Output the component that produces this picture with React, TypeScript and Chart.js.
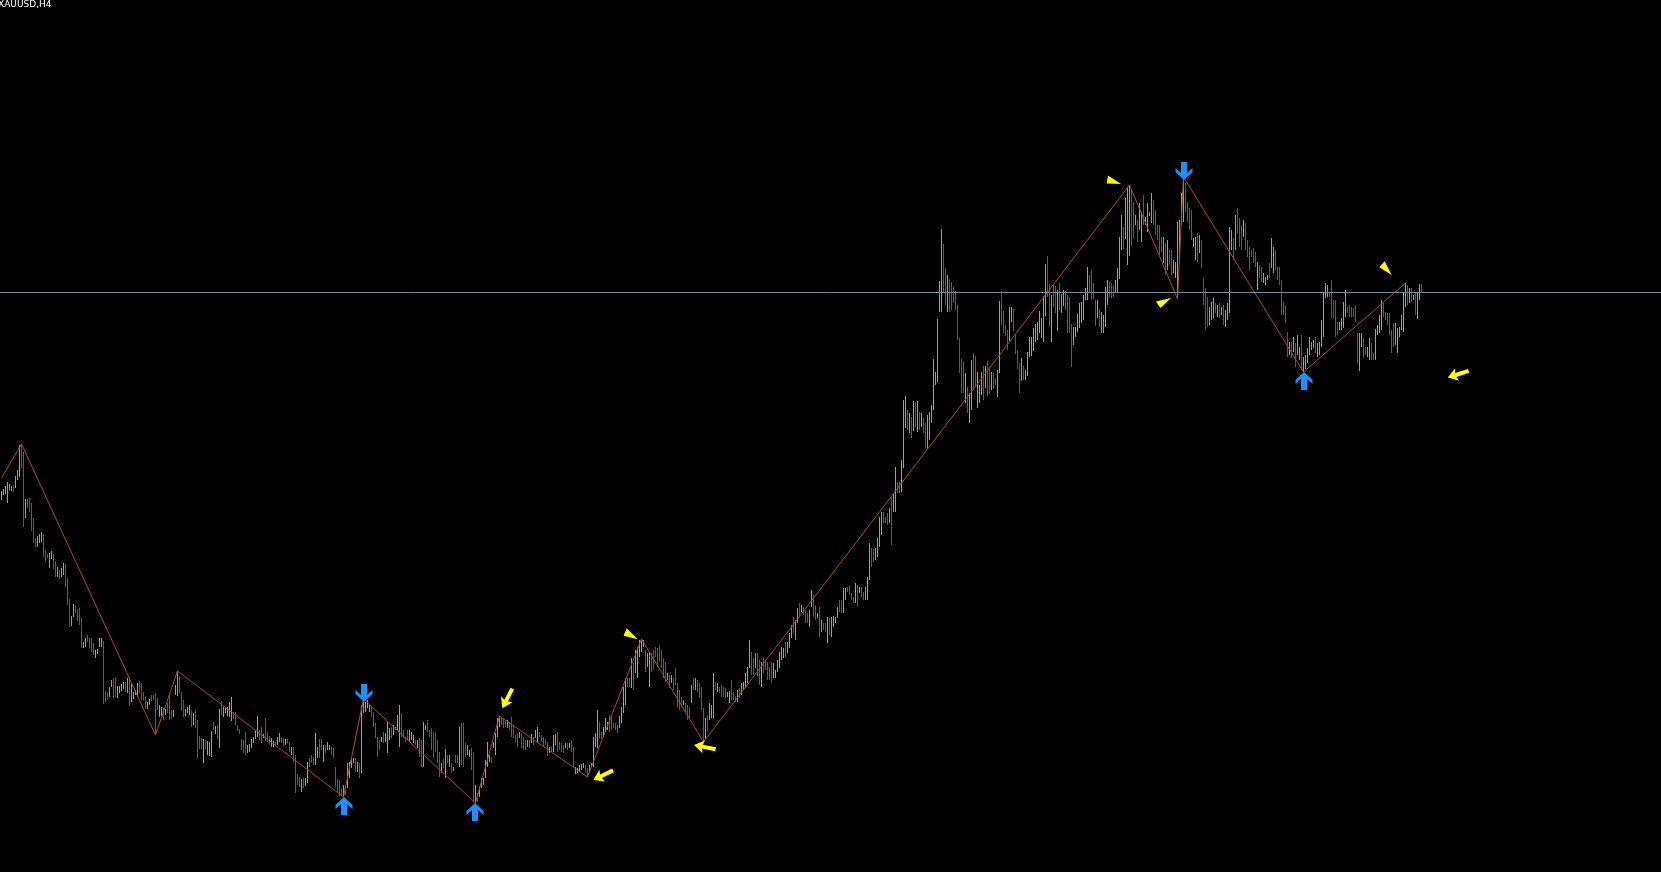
import React, { useEffect, useRef } from "react";
import { Chart, registerables } from "chart.js";

Chart.register(...registerables);

const symbolTitle = "XAUUSD,H4";

// H4 bars: high / low prices and direction (1 = bullish, 0 = bearish)
const highs = [
  1790.5,1791.5,1793,1795,1794,1793,1793.5,1798,1801,1813.5,
  1814,1810,1786.5,1786.5,1787,1784.5,1777,1767,1768,1769,
  1770,1769,1761,1759,1759.5,1760.5,1759,1755.5,1752.5,1751,
  1752,1754.5,1754,1747,1736.5,1728,1734,1733.5,1731.5,1732,
  1727,1715,1717,1718.5,1717,1717,1714.5,1711,1711.5,1717,
  1717,1715.5,1690.5,1690,1692.5,1696,1697,1697.5,1693,1693,
  1694,1695,1695,1697,1697.5,1694,1690,1691,1694.5,1695.5,
  1694.5,1690,1688,1685,1686.5,1688.5,1688.5,1689.5,1687,1683.5,
  1682.5,1682,1681.5,1684.5,1688.5,1681,1681,1693.5,1700.5,1698,
  1690,1686,1681.5,1682.5,1683.5,1681,1679.5,1681,1676,1668,
  1667,1666.5,1666,1665.5,1665,1670.5,1675,1673,1673.5,1681.5,
  1685.5,1682.5,1682.5,1682.5,1685,1687.5,1680,1680,1673.5,1671.5,
  1666.5,1666,1670,1663.5,1664,1666.5,1667.5,1670.5,1678,1671,
  1672.5,1669,1677,1670,1668,1667,1665.5,1665,1667.5,1669.5,
  1667,1667,1666.5,1666.5,1665,1662.5,1662.5,1658.5,1649,1647.5,
  1646.5,1647,1647,1655,1657,1658.5,1657.5,1669.5,1662.5,1666.5,
  1666.5,1663.5,1663.5,1665,1663.5,1662.5,1662,1652.5,1646.5,1646,
  1642,1643.5,1641.5,1654.5,1655,1657,1657,1657,1655,1654.5,
  1683.5,1686.5,1685,1686,1683.5,1682.5,1680,1674.5,1667.5,1666,
  1667.5,1670,1669.5,1675,1672,1672.5,1673.5,1672.5,1678.5,1683.5,
  1679.5,1671,1667.5,1671,1671,1670,1668.5,1666,1666,1667,
  1666,1675,1673.5,1676,1671,1672,1670,1669.5,1666,1660,
  1654.5,1656.5,1661.5,1658.5,1658.5,1654.5,1652.5,1658.5,1658.5,1672.5,
  1674.5,1674.5,1664.5,1663.5,1661,1662,1660,1643.5,1639.5,1642.5,
  1647,1647,1656,1665,1658.5,1657.5,1665,1669.5,1677,1678,
  1677.5,1677,1676,1676,1675,1677.5,1673.5,1668.5,1669.5,1670,
  1669.5,1667.5,1666,1666,1666,1669,1667.5,1671,1672.5,1670,
  1668.5,1667.5,1666.5,1665,1662.5,1662.5,1668.5,1669,1670,1665,
  1664.5,1663.5,1664.5,1664.5,1664.5,1666,1662.5,1652.5,1652,1653.5,
  1654,1654.5,1653.5,1652,1653.5,1654.5,1667.5,1669.5,1681,1675,
  1670,1672.5,1677,1675,1678.5,1677.5,1674.5,1674.5,1673.5,1678,
  1682.5,1692.5,1697,1697,1697,1707,1704.5,1711,1712.5,1716,
  1716.5,1716,1711,1709.5,1710,1709.5,1711,1712.5,1712,1713.5,
  1711,1707,1705,1699.5,1698.5,1698.5,1697,1702,1694.5,1691,
  1687.5,1686,1684.5,1683.5,1682.5,1693.5,1697,1697,1696,1694.5,
  1692.5,1682,1677,1678.5,1684.5,1683.5,1699.5,1695,1694.5,1692.5,
  1693.5,1692.5,1692,1690,1690.5,1696,1690,1688,1691,1692,
  1694.5,1695,1699.5,1702.5,1716,1710,1707,1709.5,1709.5,1706,
  1705,1707,1706,1705,1702.5,1704.5,1704.5,1701,1706,1710,
  1712.5,1712,1715,1715,1719.5,1723.5,1727.5,1726,1732,1734.5,
  1733.5,1732.5,1731,1729.5,1731,1741,1738.5,1733.5,1729.5,1732.5,
  1726,1724.5,1724.5,1727.5,1727,1727.5,1728,1727.5,1732.5,1736,
  1736,1742,1742,1742.5,1743.5,1739.5,1737.5,1744.5,1743.5,1742.5,
  1742.5,1740,1742.5,1747.5,1764.5,1762,1761.5,1762,1767,1777.5,
  1780,1780,1777.5,1779.5,1782,1787.5,1789.5,1802.5,1795,1795,
  1806,1836,1838,1831,1829.5,1827.5,1835.5,1835,1835.5,1830,
  1829.5,1827,1824.5,1828.5,1830,1833.5,1856.5,1850,1876.5,1895.5,
  1921.5,1914,1902,1898.5,1896.5,1895,1892.5,1890.5,1883.5,1867,
  1856.5,1855.5,1849.5,1842.5,1839.5,1856,1859.5,1858,1850,1843.5,
  1850,1853,1853,1855.5,1852.5,1850,1849.5,1847,1851,1885.5,
  1890.5,1880.5,1873.5,1871,1882.5,1882.5,1881.5,1868.5,1861,1854.5,
  1857,1853,1851,1860,1867.5,1867.5,1872,1874,1875,1880.5,
  1877,1888,1904,1908,1894,1888.5,1893.5,1893,1891,1894.5,
  1889,1891,1890.5,1888.5,1887.5,1874,1872.5,1872.5,1879,1884.5,
  1885,1888.5,1892,1902.5,1898.5,1901,1894.5,1886,1886,1881.5,
  1880,1878.5,1892.5,1896,1895,1894.5,1893.5,1896,1902,1917.5,
  1928.5,1922.5,1937,1942,1943.5,1941,1935,1928.5,1926,1934.5,
  1930,1938.5,1927.5,1934.5,1930,1939.5,1936,1931,1923.5,1923.5,
  1917.5,1917.5,1914.5,1916,1911,1911,1906,1905,1925,1926,
  1939.5,1947.5,1944.5,1935,1932,1931,1917,1917.5,1919.5,1918.5,
  1916,1897,1892,1887.5,1882.5,1885,1887,1884.5,1883.5,1884.5,
  1882.5,1883.5,1881,1884.5,1922.5,1921,1917,1928.5,1932,1927,
  1923.5,1926,1924.5,1916,1912.5,1911,1912,1910,1905,1903.5,
  1902.5,1899.5,1897.5,1898.5,1904.5,1917,1912.5,1911,1902.5,1902.5,
  1896,1885,1883.5,1870,1865,1865,1867.5,1864.5,1868.5,1862.5,
  1868.5,1857.5,1858.5,1862,1867.5,1865,1866,1867.5,1864.5,1865,
  1876,1890,1894.5,1893.5,1889.5,1896,1886,1886,1875,1875,
  1877,1885,1891,1882.5,1883.5,1882.5,1882,1883.5,1869.5,1869.5,
  1869.5,1867,1862.5,1862.5,1867,1864.5,1859.5,1871.5,1873.5,1878.5,
  1886,1884.5,1880,1879.5,1879.5,1871,1874.5,1874.5,1872,1872.5,
  1878.5,1890,1894.5,1893.5,1892,1892,1888.5,1889.5,1889.5,1894,1894,
];

const lows = [
  1786,1788.5,1789,1784.5,1791,1790.5,1790,1792,1796,1797.5,
  1802,1772.5,1777,1782,1780,1770.5,1764.5,1762.5,1762.5,1764.5,
  1765,1757.5,1755,1757,1752,1756.5,1751.5,1747.5,1747.5,1746.5,
  1747.5,1748.5,1742.5,1733.5,1722.5,1723,1727.5,1729.5,1725.5,1723.5,
  1712,1712,1712.5,1715,1712,1710,1708.5,1707,1709,1712.5,
  1712.5,1684,1685,1686,1687.5,1692.5,1687,1687.5,1687,1689.5,
  1690.5,1691.5,1690,1689.5,1683,1685,1686.5,1688.5,1687.5,1689.5,
  1686,1686,1681.5,1681.5,1683.5,1685.5,1686,1668.5,1681,1677.5,
  1678,1676,1678.5,1679.5,1676,1676.5,1677.5,1688.5,1688,1689.5,
  1680.5,1677.5,1678,1679.5,1678.5,1672.5,1673.5,1672,1657,1661.5,
  1661.5,1654.5,1661.5,1658.5,1658,1657.5,1671,1669,1666.5,1662,
  1678.5,1677.5,1679.5,1678,1677.5,1675.5,1676.5,1673.5,1670.5,1669,
  1661,1659.5,1658.5,1659.5,1660,1662,1664.5,1666.5,1667.5,1666,
  1664.5,1667,1665.5,1665,1663.5,1662.5,1662.5,1663.5,1663.5,1665,
  1664.5,1663,1663.5,1664.5,1660,1658.5,1655,1639.5,1643.5,1642.5,
  1640,1642,1643,1644.5,1652.5,1654.5,1653.5,1653.5,1657,1657,
  1661,1655,1659.5,1661,1661,1658.5,1657,1642.5,1639.5,1638,
  1638,1637.5,1638.5,1642,1647,1652,1654.5,1650,1650,1647,
  1649.5,1679.5,1680,1682,1680,1677.5,1672.5,1667,1657.5,1661,
  1665,1664.5,1665,1659.5,1666,1667,1668.5,1671,1671,1662.5,
  1667.5,1667,1665,1666,1665,1666,1664.5,1663.5,1662,1657.5,
  1652.5,1652.5,1671,1670,1667.5,1661,1657,1660,1654.5,1647.5,
  1649.5,1652,1647,1654.5,1652.5,1649.5,1650.5,1654.5,1654.5,1652.5,
  1653.5,1652.5,1657.5,1658.5,1657.5,1651,1635,1634.5,1635,1637.5,
  1642,1643.5,1647,1652.5,1655,1654.5,1662,1658.5,1667.5,1672.5,
  1673.5,1672,1672.5,1672,1671,1667.5,1667,1665,1662.5,1667,
  1662,1661,1661,1662.5,1662,1664.5,1663.5,1667,1664.5,1667.5,
  1665,1662.5,1663.5,1658,1659.5,1660,1660,1663.5,1660,1661,
  1660,1659.5,1662,1661,1662,1660,1652.5,1649,1649.5,1650,
  1651,1652,1650,1647.5,1649.5,1652.5,1652.5,1662.5,1662,1667,
  1666.5,1667.5,1670,1671,1670,1671,1672,1671,1669.5,1672,
  1674.5,1679.5,1683.5,1692.5,1692.5,1692,1691,1699.5,1697,1707.5,
  1710,1712.5,1700,1702.5,1692.5,1700,1701,1707.5,1702.5,1705,
  1702,1697,1695,1696,1692,1694.5,1691,1693.5,1682.5,1681,
  1682.5,1683.5,1680,1676,1677,1684.5,1691,1691,1690,1687,
  1681,1665,1666,1670,1676,1677,1677,1691,1690,1689.5,
  1687.5,1687.5,1687,1687.5,1684.5,1686,1686,1685,1685,1687,
  1688.5,1691,1692,1694.5,1702,1698.5,1698.5,1702,1697.5,1693.5,
  1692.5,1699.5,1701,1696,1696,1694.5,1697,1697,1700,1702,
  1706,1707,1707.5,1709.5,1712,1717,1719.5,1716,1724.5,1727.5,
  1730,1728.5,1724.5,1724.5,1722.5,1732.5,1727.5,1726,1727,1717.5,
  1720,1721,1720,1714.5,1718.5,1717.5,1722.5,1724.5,1727,1730,
  1729.5,1729.5,1736,1740,1738.5,1736,1734.5,1734.5,1732.5,1739.5,
  1737.5,1736,1736,1736,1746,1752.5,1755,1756,1757.5,1762.5,
  1768.5,1774.5,1774.5,1773.5,1774.5,1763.5,1780,1780,1789.5,1789.5,
  1790,1802,1822,1821,1819.5,1817,1820.5,1822.5,1820,1821,
  1822.5,1819.5,1812,1812,1816,1824.5,1831,1843.5,1845,1880,
  1880,1889.5,1883.5,1880,1880,1881,1884.5,1881,1866,1849.5,
  1839.5,1839.5,1834.5,1829.5,1824.5,1831,1841,1842.5,1832,1834.5,
  1838.5,1836,1842,1838,1839,1841,1841.5,1843.5,1837.5,1849.5,
  1873.5,1869.5,1868,1861,1865.5,1875,1870.5,1859,1851.5,1839.5,
  1845.5,1846,1846,1848,1857.5,1858,1860.5,1865,1866,1869.5,
  1867,1865,1878,1887.5,1872.5,1865,1882.5,1879.5,1870.5,1881,
  1879.5,1883,1881,1869.5,1869.5,1852.5,1863.5,1867.5,1870,1872,
  1874.5,1876,1886,1886,1889.5,1886,1886.5,1873,1877,1872.5,
  1869.5,1869.5,1872.5,1883.5,1887.5,1887,1887.5,1890,1890,1896.5,
  1911,1911.5,1916.5,1903.5,1908,1913.5,1917,1923.5,1915,1921,
  1915,1923.5,1923.5,1920,1928,1924.5,1923.5,1918.5,1916,1908.5,
  1910,1904.5,1898.5,1901,1903.5,1898.5,1899.5,1897,1886.5,1906,
  1923.5,1925,1930,1925,1921,1916,1912.5,1906,1905,1909.5,
  1902,1883.5,1871,1872.5,1873.5,1876,1877,1879.5,1877.5,1877,
  1878.5,1873.5,1872.5,1876,1879.5,1911,1906,1911,1919.5,1912.5,
  1911,1917.5,1911,1907.5,1901,1907.5,1904.5,1902.5,1891,1897,
  1895,1894.5,1893.5,1896,1897,1902,1899.5,1901,1896,1893.5,
  1878.5,1878.5,1874.5,1857.5,1858.5,1857,1860,1852.5,1858.5,1856,
  1851,1850,1851.5,1854.5,1858.5,1861,1862,1859.5,1857.5,1858.5,
  1862.5,1867.5,1887,1887.5,1887.5,1877,1877,1867.5,1868.5,1871,
  1871,1872,1877.5,1879.5,1877.5,1877.5,1877.5,1875,1854.5,1850.5,
  1862.5,1857,1858.5,1857.5,1856,1856,1856,1856,1868.5,1869.5,
  1871,1877.5,1876,1873.5,1868.5,1859.5,1862.5,1863.5,1859.5,1867.5,
  1871,1870,1882.5,1883.5,1884.5,1885,1886,1878.5,1876.5,1886,1889.5,
];

const bullish = [
  1,1,1,1,1,1,0,1,1,1, 0,0,1,0,0,0,0,0,1,1, 1,0,0,0,1,1,0,0,1,0, 1,1,0,0,0,1,1,0,0,0,
  0,1,1,0,0,0,0,1,1,1, 1,0,0,0,1,1,0,0,1,1, 1,1,0,1,0,1,1,1,1,0, 0,0,0,1,1,0,0,0,0,1,
  1,0,1,0,0,0,1,1,1,0, 0,0,1,1,1,0,1,0,0,0, 0,1,0,1,1,1,0,1,0,1, 0,1,1,1,1,1,0,0,0,0,
  0,0,0,1,1,1,1,1,1,0, 0,1,0,0,0,1,1,0,1,1, 0,0,1,0,0,1,0,0,0,0, 1,0,1,1,0,0,0,1,1,0,
  0,1,0,1,1,0,0,0,0,0, 0,1,0,1,1,1,1,0,1,0, 1,1,1,1,1,0,0,0,0,0, 1,0,1,1,1,0,1,1,1,1,
  0,0,0,0,1,1,1,0,1,0, 0,1,1,0,0,0,0,0,0,0, 1,0,1,0,1,0,1,0,0,1, 0,0,0,1,1,0,0,1,0,1,
  1,1,1,1,1,0,1,1,1,1, 0,0,0,1,0,0,0,0,0,1, 0,0,0,1,0,1,0,1,1,0, 0,0,0,0,1,0,1,1,0,0,
  0,0,1,0,1,0,0,1,1,1, 1,1,0,0,1,1,1,1,1,0, 0,1,1,1,0,0,0,0,0,1, 1,1,1,0,0,1,0,1,1,1,
  1,1,0,1,1,0,0,0,0,0, 0,0,0,1,0,1,0,0,0,0, 0,1,0,0,0,1,0,1,0,0, 0,0,1,0,1,1,1,0,1,0,
  0,0,0,1,1,0,0,0,1,0, 1,1,1,1,1,0,0,1,0,0, 1,0,0,0,0,0,1,1,1,1, 1,1,0,1,1,1,0,1,1,0,
  1,0,0,0,1,1,0,0,1,0, 1,0,0,1,0,1,1,1,1,0, 0,1,1,0,0,0,0,1,0,1, 0,0,1,1,1,0,0,1,1,1,
  1,0,0,0,1,0,1,1,0,0, 1,1,1,0,1,0,1,0,1,0, 1,0,0,1,1,1,1,1,1,1, 1,0,0,1,0,0,0,0,0,0,
  0,0,1,0,1,1,0,0,1,1, 1,0,1,0,0,1,0,0,1,1, 0,0,0,0,1,1,0,0,0,0, 1,0,1,1,1,1,1,1,1,1,
  1,1,1,0,0,1,0,0,1,0, 1,1,0,0,0,0,1,1,1,1, 1,1,1,1,0,0,0,0,1,0, 1,1,1,1,0,0,0,1,1,1,
  1,0,1,1,1,0,0,1,0,1, 1,0,1,1,1,1,0,0,0,0, 0,1,0,1,0,0,1,1,1,1, 1,1,0,0,0,0,1,1,0,1,
  0,0,0,0,1,1,1,0,1,0, 1,0,1,1,1,1,0,1,0,0, 0,1,0,0,0,0,0,0,1,0, 0,1,1,1,0,1,1,0,0,0,
  0,0,0,0,1,0,1,0,1,1, 0,1,1,1,1,1,1,0,1,1, 1,1,1,1,0,0,0,0,0,1, 1,1,1,0,0,0,0,0,0,1,
  1,0,0,1,1,0,0,1,1,1, 1,0,0,0,0,0,0,1,1,1, 1,1,1,0,1,0,1,0,1,1,0,
];

// ZigZag pivots (bar index, price)
const zigzagBars = [0, 10, 77, 88, 171, 181, 237, 249, 293, 320, 351, 564, 588, 591, 651, 702];
const zigzagPrices = [1797, 1814, 1668.5, 1700.5, 1637.5, 1686.5, 1634.5, 1678, 1647.5, 1716.5, 1665, 1943.5, 1886.5, 1947.5, 1850, 1894.5];

// Blue signal arrows (bar indices): buy arrows under lows, sell arrows over highs
const buyArrowBars = [171, 237, 651];
const sellArrowBars = [181, 591];

// Yellow markers: position (bar index, price), pointing direction (deg), kind
const yellowBars = [559.8, 584.75, 695.1, 723.1, 250.4, 295.9, 318.1, 346.25];
const yellowPrices = [1944, 1887, 1898.5, 1847.2, 1681.9, 1646, 1716.4, 1663.5];
const yellowAngles = [18, -28, 48, 162, 117, 154, 30, -169];
const yellowKinds = ["wedge", "wedge", "wedge", "arrow", "arrow", "arrow", "wedge", "arrow"];

const bidPrice = 1890;
const totalSlots = 830.5; // visible bar slots incl. right shift
const priceMin = 1600;
const priceMax = 2036;

const UP = "#22F522";
const DOWN = "#F21C1C";

const overlayPlugin = {
  id: "mtOverlay",
  beforeDraw(chart: any) {
    const { ctx } = chart;
    ctx.save();
    ctx.fillStyle = "#000";
    ctx.fillRect(0, 0, chart.width, chart.height);
    ctx.restore();
  },
  afterDatasetsDraw(chart: any) {
    const { ctx } = chart;
    const xs = chart.scales.x;
    const ys = chart.scales.y;
    ctx.save();
    // bid line
    const by = Math.floor(ys.getPixelForValue(bidPrice)) + 0.5;
    ctx.strokeStyle = "#778899";
    ctx.lineWidth = 1;
    ctx.beginPath();
    ctx.moveTo(0, by);
    ctx.lineTo(chart.width, by);
    ctx.stroke();

    const blue = (px: number, py: number, dir: number) => {
      const pts = [[0, 0], [8.5, 8], [8.5, 12], [3, 7], [3, 18], [-3, 18], [-3, 7], [-8.5, 12], [-8.5, 8]];
      ctx.beginPath();
      pts.forEach(([dx, dy], k) => {
        const X = px + dx;
        const Y = py + dir * dy;
        if (k === 0) ctx.moveTo(X, Y);
        else ctx.lineTo(X, Y);
      });
      ctx.closePath();
      ctx.fillStyle = "#1E8FFF";
      ctx.fill();
    };
    buyArrowBars.forEach((b) => {
      blue(Math.round(xs.getPixelForValue(b)), ys.getPixelForValue(lows[b]), 1);
    });
    sellArrowBars.forEach((b) => {
      blue(Math.round(xs.getPixelForValue(b)), ys.getPixelForValue(highs[b]) + 3, -1);
    });

    yellowBars.forEach((b, k) => {
      const px = xs.getPixelForValue(b);
      const py = ys.getPixelForValue(yellowPrices[k]);
      ctx.save();
      ctx.translate(px, py);
      ctx.rotate((yellowAngles[k] * Math.PI) / 180);
      ctx.beginPath();
      if (yellowKinds[k] === "wedge") {
        ctx.moveTo(0, 0);
        ctx.lineTo(-15, -4);
        ctx.lineTo(-14, 4);
      } else {
        ctx.moveTo(0, 0);
        ctx.lineTo(-10, -6.5);
        ctx.lineTo(-8.5, -2);
        ctx.lineTo(-22, -2);
        ctx.lineTo(-22, 2);
        ctx.lineTo(-8.5, 2);
        ctx.lineTo(-10, 6.5);
      }
      ctx.closePath();
      ctx.fillStyle = "#FFFF00";
      ctx.fill();
      ctx.restore();
    });
    ctx.restore();
  },
};

export default function App() {
  const ref = useRef<HTMLCanvasElement | null>(null);

  useEffect(() => {
    document.body.style.margin = "0";
    document.body.style.background = "#000";
    const canvas = ref.current;
    if (!canvas) return;
    const barData = highs.map((h, i) => ({ x: i, y: [lows[i], h] }));
    const chart = new Chart(canvas, {
      type: "bar",
      data: {
        datasets: [
          {
            type: "line",
            data: zigzagBars.map((b, k) => ({ x: b, y: zigzagPrices[k] })),
            borderColor: "#A0522D",
            borderWidth: 1,
            pointRadius: 0,
            tension: 0,
            order: 1,
          } as any,
          {
            type: "bar",
            data: barData as any,
            backgroundColor: bullish.map((b) => (b ? UP : DOWN)),
            barThickness: 1,
            borderWidth: 0,
            inflateAmount: 0,
            borderSkipped: false,
            order: 2,
          } as any,
        ],
      },
      options: {
        animation: false,
        responsive: false,
        devicePixelRatio: 1,
        events: [],
        layout: { padding: 0 },
        plugins: { legend: { display: false }, tooltip: { enabled: false }, title: { display: false } },
        scales: {
          x: {
            type: "linear",
            display: false,
            offset: false,
            min: -0.75,
            max: totalSlots - 0.75,
          },
          y: {
            type: "linear",
            display: false,
            min: priceMin,
            max: priceMax,
          },
        },
      } as any,
      plugins: [overlayPlugin],
    });
    return () => chart.destroy();
  }, []);

  return (
    <div style={{ position: "fixed", left: 0, top: 0, width: 1661, height: 872, background: "#000", overflow: "hidden" }}>
      <canvas ref={ref} width={1661} height={872} style={{ width: 1661, height: 872, display: "block" }} />
      <div
        style={{
          position: "absolute",
          left: -2,
          top: -1,
          color: "#fff",
          font: "9px 'DejaVu Sans', sans-serif",
          lineHeight: "10px",
          whiteSpace: "nowrap",
        }}
      >
        {symbolTitle}
      </div>
    </div>
  );
}
